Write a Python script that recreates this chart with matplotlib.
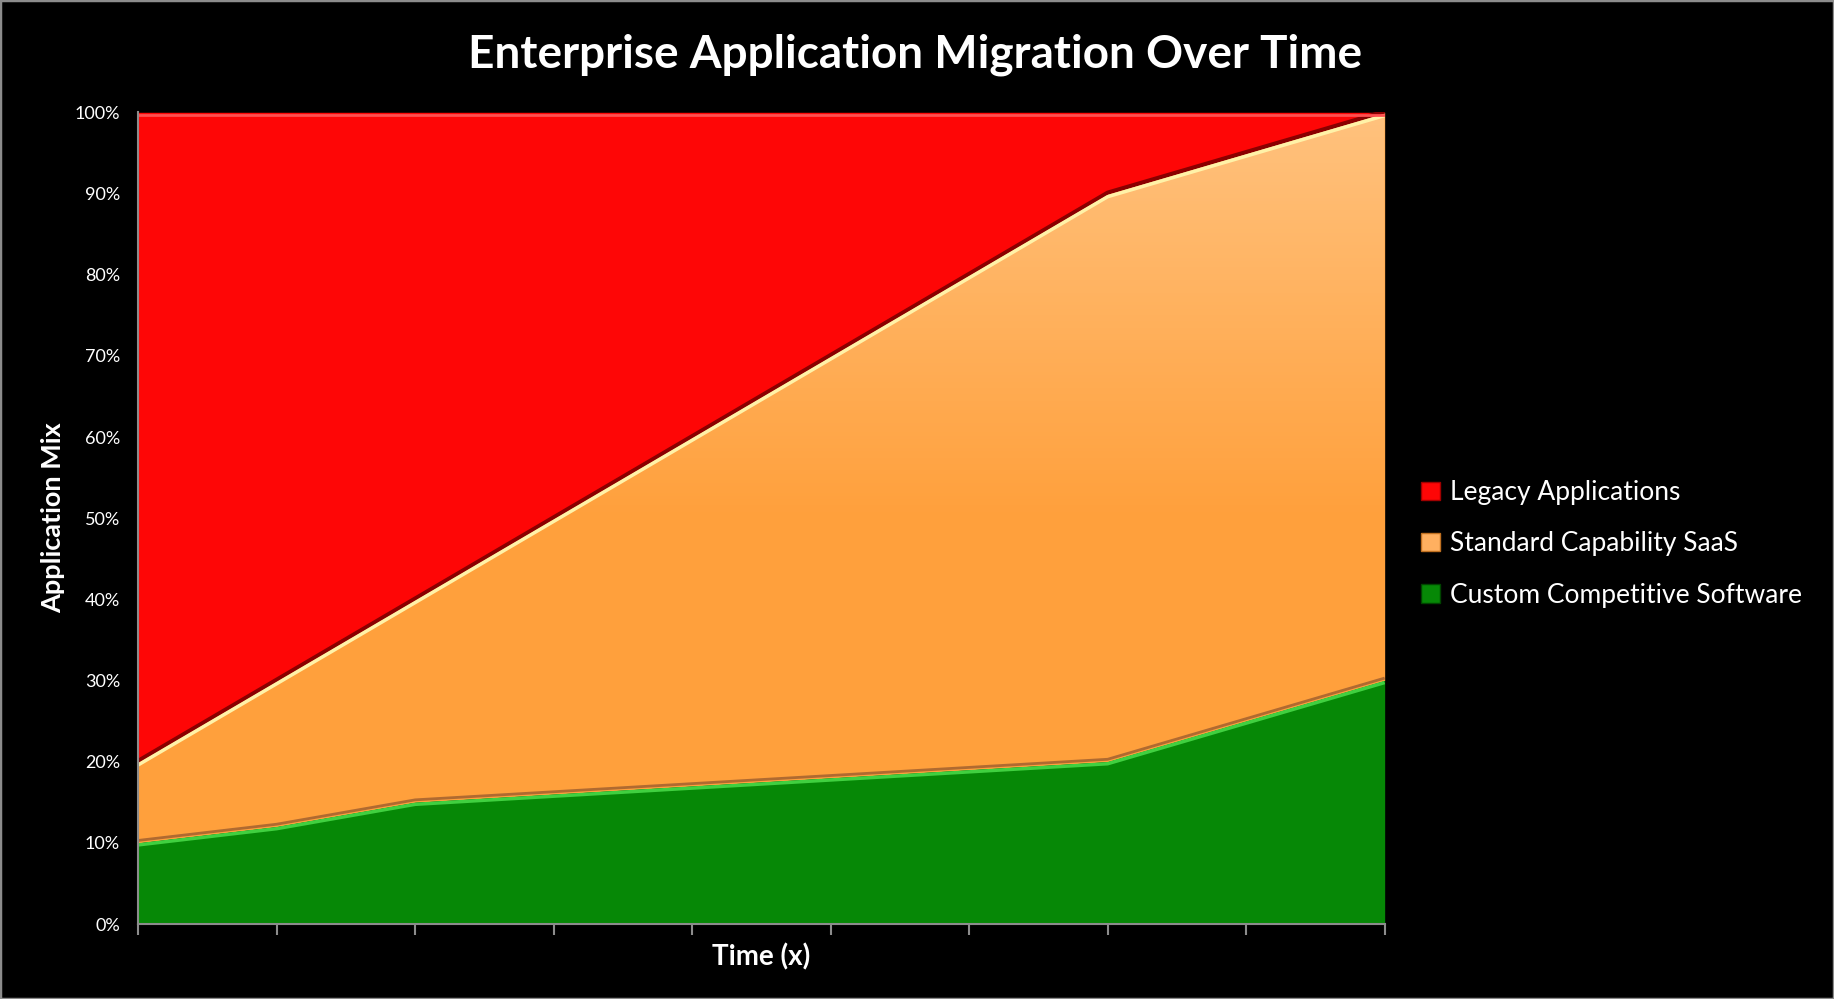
import numpy as np
import matplotlib
matplotlib.use("Agg")
import matplotlib.pyplot as plt
from matplotlib.patches import Rectangle, Patch, Polygon
from matplotlib.colors import LinearSegmentedColormap

plt.rcParams['font.family'] = ['Lato', 'DejaVu Sans']

# data (percent of application mix)
time_points = [0, 1, 2, 3, 4, 5, 6, 7, 8, 9]
custom = [10, 12, 15, 16, 17, 18, 19, 20, 25, 30]
saas = [10, 18, 25, 34, 43, 52, 61, 70, 70, 70]
legacy = [80, 70, 60, 50, 40, 30, 20, 10, 5, 0]
y_ticks = [0, 10, 20, 30, 40, 50, 60, 70, 80, 90, 100]

series_names = ['Legacy Applications', 'Standard Capability SaaS', 'Custom Competitive Software']
red = '#fe0606'
orange_top = '#ffc27e'
orange_bottom = '#ffa03c'
green = '#068806'

fig = plt.figure(figsize=(18.34, 9.99), dpi=100, facecolor='black')
ax = fig.add_axes([0.0753, 0.075, 0.6797, 0.8126])
ax.set_facecolor('black')

x = np.array(time_points)
c1 = np.array(custom)
c2 = c1 + np.array(saas)
c3 = c2 + np.array(legacy)

ax.fill_between(x, c2, c3, color=red, lw=0, zorder=1)
ax.fill_between(x, c1, c2, color=orange_bottom, lw=0, zorder=2)
# vertical gradient for the SaaS band
verts = np.concatenate([np.column_stack([x, c2]), np.column_stack([x[::-1], c1[::-1]])])
band = Polygon(verts, closed=True, facecolor='none', edgecolor='none', transform=ax.transData)
ax.add_patch(band)
grad = np.linspace(0, 1, 256).reshape(-1, 1)
cmap = LinearSegmentedColormap.from_list('og', [orange_bottom, orange_bottom, orange_top])
img = ax.imshow(grad, extent=[x[0], x[-1], 0, 100], origin='lower', aspect='auto',
                cmap=cmap, zorder=2.5)
img.set_clip_path(band)
ax.fill_between(x, 0, c1, color=green, lw=0, zorder=3)

# bevel-like edges
ax.plot(x, c2 + 0.1, color='#8a0000', lw=3, zorder=4, solid_capstyle='butt')
ax.plot(x, c2 - 0.4, color='#fff2a8', lw=2.5, zorder=4, solid_capstyle='butt')
ax.plot(x, c1 + 0.3, color='#b06a30', lw=2, zorder=4, solid_capstyle='butt')
ax.plot(x, c1 - 0.25, color='#40d040', lw=2.5, zorder=4, solid_capstyle='butt')
ax.plot(x, c3 - 0.3, color='#ff5050', lw=2, zorder=4)

ax.set_xlim(x[0], x[-1])
ax.set_ylim(0, 100)
ax.set_xticks(time_points)
ax.set_xticklabels([])
ax.set_yticks(y_ticks)
ax.set_yticklabels([f'{v}%' for v in y_ticks], color='white', fontsize=13)
ax.tick_params(axis='y', length=0, pad=13)
ax.tick_params(axis='x', length=8, width=1.5, color='#8c8c8c', direction='out')
for s in ['top', 'right']:
    ax.spines[s].set_visible(False)
for s in ['left', 'bottom']:
    ax.spines[s].set_color('#8c8c8c')
    ax.spines[s].set_linewidth(1.5)
    ax.spines[s].set_zorder(5)

ax.set_xlabel('Time (x)', color='white', fontsize=20, fontweight='bold', labelpad=2)
ax.set_ylabel('Application Mix', color='white', fontsize=19.5, fontweight='bold', labelpad=7)

fig.text(0.499, 0.945, 'Enterprise Application Migration Over Time', color='white',
         fontsize=33, fontweight='bold', ha='center', va='center')

handles = [Patch(facecolor=red, edgecolor='#a00000'),
           Patch(facecolor='#ffb060', edgecolor='#c07020'),
           Patch(facecolor=green, edgecolor='#004400')]
leg = fig.legend(handles, series_names, loc='center left', bbox_to_anchor=(0.762, 0.4555),
                 frameon=False, fontsize=19, labelcolor='white', handlelength=0.7,
                 handleheight=0.7, handletextpad=0.4, labelspacing=1.0)

fig.patches.append(Rectangle((0, 0), 1, 1, transform=fig.transFigure, fill=False,
                             edgecolor='#8c8c8c', lw=2.5))

fig.savefig('out.png', dpi=100, facecolor='black')
